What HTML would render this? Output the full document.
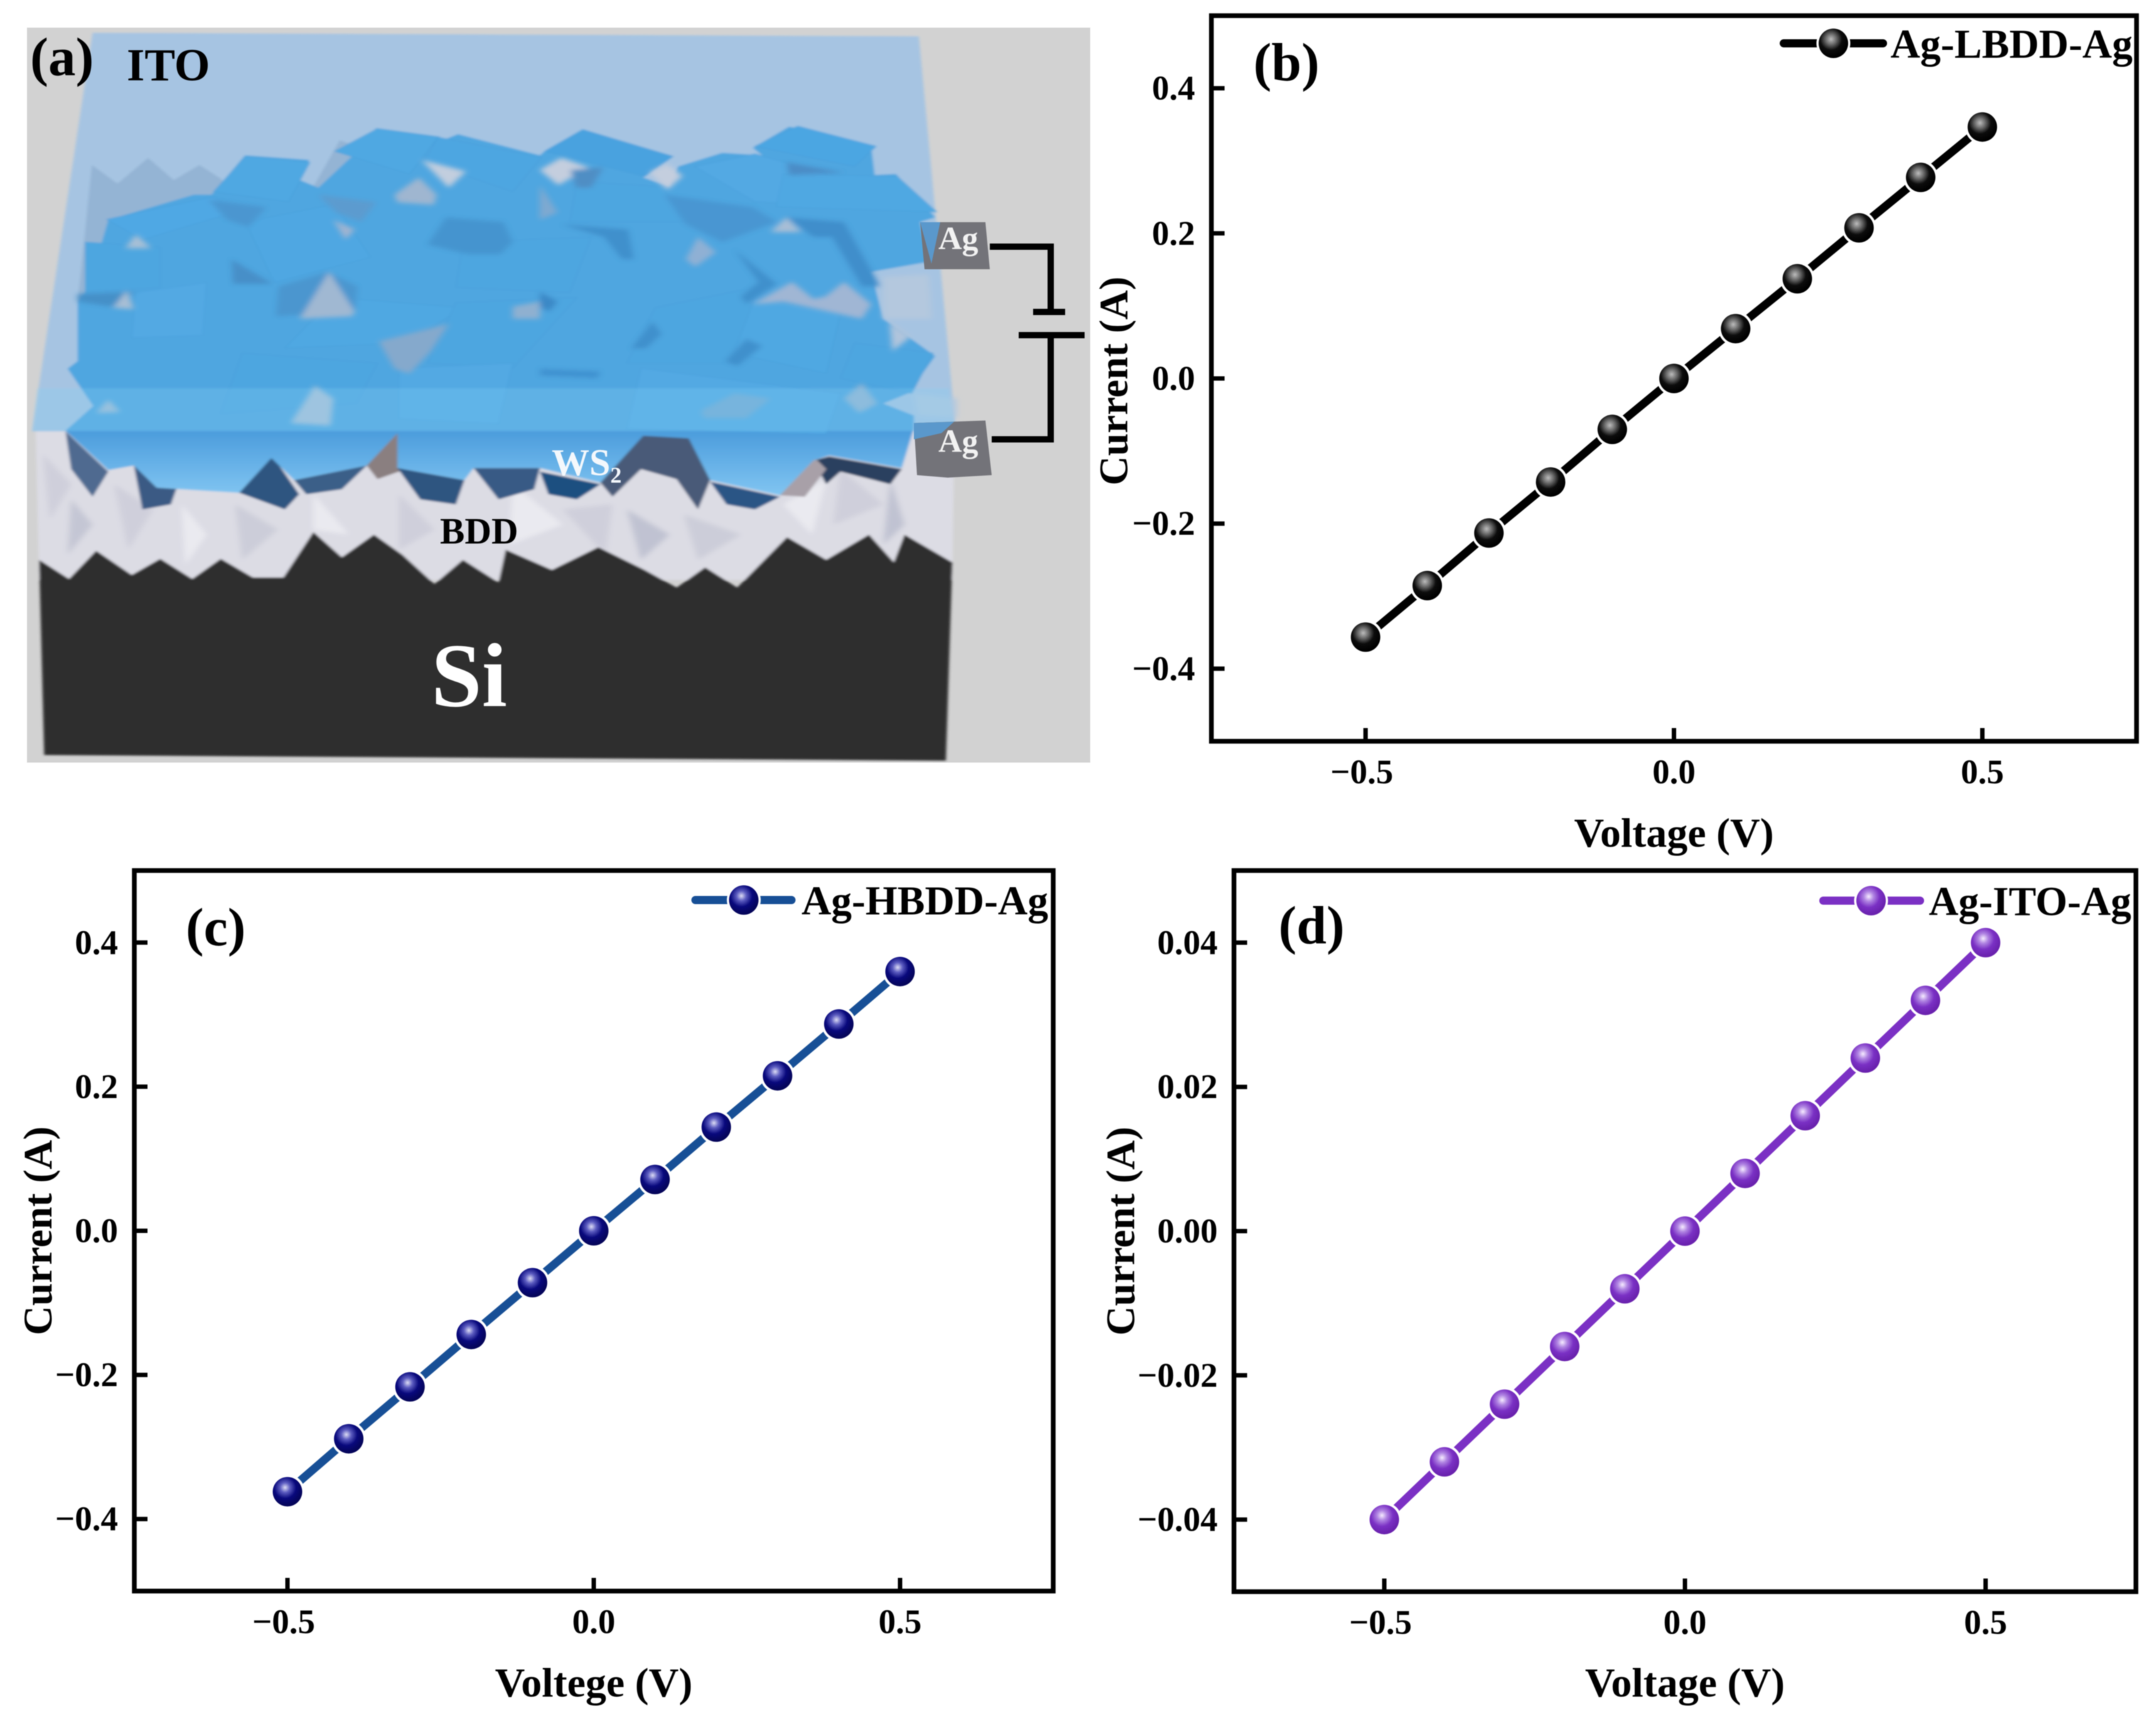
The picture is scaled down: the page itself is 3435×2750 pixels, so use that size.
<!DOCTYPE html>
<html lang="en">
<head>
<meta charset="utf-8">
<title>Ag contact I-V characteristics</title>
<style>
html,body{margin:0;padding:0;background:#fff;width:3435px;height:2750px;overflow:hidden}
svg{display:block;position:absolute;left:0;top:0;filter:blur(0.8px)}
text{font-family:"Liberation Serif",serif;font-weight:bold;fill:#000}
</style>
</head>
<body>
<svg id="figure" xmlns="http://www.w3.org/2000/svg" width="3435" height="2750" viewBox="0 0 3435 2750">
  <defs>
    <radialGradient id="ball-black" cx="0.42" cy="0.36" r="0.6">
      <stop offset="0" stop-color="#bcbcbc"/><stop offset="0.3" stop-color="#6a6a6a"/><stop offset="0.62" stop-color="#0c0c0c"/><stop offset="1" stop-color="#000"/>
    </radialGradient>
    <radialGradient id="ball-navy" cx="0.42" cy="0.36" r="0.6">
      <stop offset="0" stop-color="#dcdcf4"/><stop offset="0.28" stop-color="#5c5cc0"/><stop offset="0.62" stop-color="#08087c"/><stop offset="1" stop-color="#05055a"/>
    </radialGradient>
    <radialGradient id="ball-purple" cx="0.42" cy="0.36" r="0.6">
      <stop offset="0" stop-color="#f6ecff"/><stop offset="0.28" stop-color="#b084e2"/><stop offset="0.62" stop-color="#7a30c4"/><stop offset="1" stop-color="#6a22ae"/>
    </radialGradient>
    <linearGradient id="mass-fill" gradientUnits="userSpaceOnUse" x1="0" y1="250" x2="0" y2="985">
      <stop offset="0" stop-color="#4fa6e0"/><stop offset="0.82" stop-color="#4fa6e0"/><stop offset="0.822" stop-color="#4b9cdc"/><stop offset="1" stop-color="#82c6f2"/>
    </linearGradient>
    <filter id="soft" x="-2%" y="-2%" width="104%" height="104%"><feGaussianBlur stdDeviation="2"/></filter>
    <filter id="softer" filterUnits="userSpaceOnUse" x="0" y="0" width="1568" height="1568"><feGaussianBlur stdDeviation="4"/></filter>
  </defs>

  <g id="panel-a">
    <rect x="43" y="44" width="1694" height="1171" fill="#d2d2d2"/>
    <g id="art" filter="url(#soft)" transform="scale(1.1348,0.8036)">
      <polygon points="50,850 1340,850 1337,1150 55,1150" fill="#dcdce4"/>
      <g id="bdd-facets" filter="url(#softer)"></g>
      <polygon fill="#2e2e2e" points="55,1110 97,1148 135,1092 185,1140 225,1108 270,1148 310,1108 355,1145 398,1145 440,1055 480,1105 525,1060 565,1100 610,1158 650,1110 700,1155 710,1090 775,1130 840,1085 905,1130 950,1165 990,1125 1035,1165 1105,1065 1160,1110 1220,1060 1255,1115 1270,1060 1337,1115 1328,1508 62,1497"/>
      <g id="shadows"></g>
      <polygon points="130,65 1290,72 1342,855 45,855" fill="#a6c4e2"/>
      <polygon points="129,327 165,364 208,313 244,357 280,327 310,354 340,420 109,600" fill="#94b4d4"/>
      <polygon points="440,370 477,278 520,300 500,380" fill="#94b4d4"/>
      <polygon fill="url(#mass-fill)" points="109,716 109,598 126,568 144,475 152,436 272,386 297,386 344,308 434,317 421,357 447,372 507,293 528,254 618,271 613,283 643,266 758,308 766,298 818,256 941,308 903,352 940,370 952,330 1014,303 1070,308 1057,293 1108,251 1223,288 1228,347 1258,345 1313,431 1292,440 1304,519 1223,539 1240,632 1313,706 1275,780 1240,800 1283,824 1283,850 1266,928 1164,903 1142,913 1095,982 997,952 967,869 903,864 843,957 758,928 665,928 652,952 558,928 558,859 515,923 413,952 381,908 336,977 220,967 188,923 152,932 92,854 131,805 95,731"/>
      <g id="flakes"></g>
      <g id="gaps" filter="url(#softer)"></g>
      <polygon points="52,770 1332,770 1342,855 45,855" fill="#86d0f6" fill-opacity="0.28"/>
    </g>
    <polygon points="1466,354 1570,354 1577,429 1473,429" fill="#737379"/>
    <polygon points="1466,354 1498,354 1484,420" fill="#5a98cc"/>
    <polygon points="1456,674 1570,670 1580,757 1510,761 1461,757" fill="#737379"/>
    <polygon points="1456,674 1520,672 1500,690 1456,700" fill="#5a98cc"/>
    <path d="M1577 393H1674V497M1646 497H1697M1623 534H1728M1674 534V700H1580" fill="none" stroke="#000" stroke-width="10"/>
    <text x="48" y="120" font-size="87">(a)</text>
    <text x="202" y="128" font-size="73">ITO</text>
    <text x="1495" y="397" font-size="52" style="fill:#f2f2f2">Ag</text>
    <text x="1495" y="720" font-size="52" style="fill:#f2f2f2">Ag</text>
    <text x="879" y="757" font-size="60" style="fill:#f4f8fc">WS<tspan font-size="36" dy="12">2</tspan></text>
    <text x="701" y="866" font-size="59">BDD</text>
    <text x="687" y="1125" font-size="145" style="fill:#fff">Si</text>
  </g>
</svg>

<script>
/* ---------- chart data ---------- */
const voltages = [-0.5, -0.4, -0.3, -0.2, -0.1, 0, 0.1, 0.2, 0.3, 0.4, 0.5];
const currentLBDD = [-0.3565, -0.2855, -0.2130, -0.1427, -0.0702, 0, 0.0687, 0.1374, 0.2076, 0.2771, 0.3466];
const currentHBDD = [-0.3621, -0.2886, -0.2166, -0.1439, -0.0720, 0, 0.0712, 0.1439, 0.2151, 0.2870, 0.3598];
const currentITO = [-0.0400, -0.0320, -0.0240, -0.0160, -0.0080, 0, 0.0080, 0.0160, 0.0240, 0.0320, 0.0400];
const xTickValues = [-0.5, 0, 0.5];
const xTickLabels = ['\u22120.5', '0.0', '0.5'];
const yTickValuesBDD = [-0.4, -0.2, 0, 0.2, 0.4];
const yTickLabelsBDD = ['\u22120.4', '\u22120.2', '0.0', '0.2', '0.4'];
const yTickValuesITO = [-0.04, -0.02, 0, 0.02, 0.04];
const yTickLabelsITO = ['\u22120.04', '\u22120.02', '0.00', '0.02', '0.04'];

/* ---------- panel layout ---------- */
const panels = [
  {id:'b', left:1930, right:3404, top:25, bottom:1181, xMin:-0.75, xMax:0.75, yMin:-0.5, yMax:0.5,
   values:currentLBDD, yTicks:yTickValuesBDD, yLabels:yTickLabelsBDD, line:'#000000', ball:'ball-black',
   legend:'Ag-LBDD-Ag', legX0:2842, legX1:3000, legM:2921, legY:69, legTextX:3012,
   label:'(b)', labelX:1997, labelY:128, xTitle:'Voltage (V)', xTitleY:1349, yTitleX:1796, yTitleShift:4},
  {id:'c', left:214, right:1678, top:1387, bottom:2535, xMin:-0.75, xMax:0.75, yMin:-0.5, yMax:0.5,
   values:currentHBDD, yTicks:yTickValuesBDD, yLabels:yTickLabelsBDD, line:'#174f96', ball:'ball-navy',
   legend:'Ag-HBDD-Ag', legX0:1108, legX1:1261, legM:1185, legY:1434, legTextX:1277,
   label:'(c)', labelX:296, labelY:1506, xTitle:'Voltege (V)', xTitleY:2703, yTitleX:82, yTitleShift:0},
  {id:'d', left:1966, right:3403, top:1387, bottom:2536, xMin:-0.75, xMax:0.75, yMin:-0.05, yMax:0.05,
   values:currentITO, yTicks:yTickValuesITO, yLabels:yTickLabelsITO, line:'#7b30c4', ball:'ball-purple',
   legend:'Ag-ITO-Ag', legX0:2905, legX1:3059, legM:2981, legY:1435, legTextX:3073,
   label:'(d)', labelX:2037, labelY:1503, xTitle:'Voltage (V)', xTitleY:2703, yTitleX:1807, yTitleShift:0}
];

/* ---------- schematic artwork (illustration, not chart data) ---------- */
const flakeShapes = [
 ['345,310 435,322 405,400 300,380','#50a8e2'],['530,255 615,272 575,345 470,300','#50a8e2'],
 ['615,272 760,312 720,380 595,320','#4ea6e1'],['820,258 945,310 905,350 765,300','#4aa2df'],
 ['810,360 930,370 960,440 800,440','#4ea6e0'],['975,330 1060,305 1220,370 1200,410 1060,400','#52a9e3'],
 ['1120,250 1230,290 1200,330 1060,290','#4ca6e2'],['1100,345 1260,350 1315,420 1090,410','#50a8e2'],
 ['150,435 300,390 330,420 200,475','#50a8e4'],['345,440 470,405 520,510 385,560','#4fa7e2'],
 ['120,480 225,490 225,570 120,580','#4ea6e0'],['190,580 290,560 285,665 185,670','#52a9e3'],
 ['650,480 830,470 800,580 640,570','#4ea6e0'],['470,590 650,610 570,680 400,690','#50a8e2'],
 ['640,600 810,590 720,730 600,720','#4ea6e0'],['920,610 1060,570 1040,720 880,720','#4ea6e0'],
 ['1060,590 1180,620 1160,740 1030,700','#50a8e2'],['1200,680 1310,700 1280,780 1180,750','#4ea6e0'],
 ['340,700 530,720 500,800 310,820','#4ea6e0'],['560,730 720,720 700,840 560,830','#52a9e3'],
 ['900,730 1180,780 1160,860 880,850','#52a9e3']
];
const gapShapes = [
 ['592,317 654,340 630,372','#c2cede'],['554,386 588,352 613,386 609,406 558,401','#9fb6d0'],
 ['447,386 528,401 507,440 472,421','#5b9bcf'],['600,485 626,431 707,440 720,480 703,504 656,504','#4494cf'],
 ['293,396 374,411 349,450 319,436','#4b96d0'],
 ['191,465 212,492 176,492','#a8c0d6'],['325,514 383,563 327,563','#468fc8'],
 ['391,568 460,539 502,568 498,618 387,627','#4c96cf'],['421,632 462,539 498,618 494,627','#a0b8d2'],
 ['109,583 191,578 156,608 109,598','#4590c8'],['159,610 178,576 188,613','#a8bed4'],
 ['532,677 630,642 605,696 575,741 554,731','#85a9cc'],['408,839 442,765 468,790 464,844','#a8c0d8'],
 ['135,819 152,792 169,817','#a0bcd6'],['720,608 758,598 758,632 720,632','#8fb0d0'],
 ['468,436 498,455 485,475','#a0b4d0'],
 ['758,337 788,313 826,332 784,367','#c4cede'],['912,342 937,325 958,349 937,376','#c4cede'],
 ['801,337 847,332 830,372 809,372','#4f8ec4'],['758,367 783,421 758,436','#7ea9d0'],
 ['933,386 1057,411 1091,440 1014,480 963,445','#4a96d2'],['1104,322 1185,342 1108,347','#4b8cc6'],
 ['1082,460 1104,431 1125,460','#a8bed6'],['788,445 882,455 890,514 873,514 848,470','#3f90cc'],
 ['963,514 980,470 1005,500 976,529','#8fb0d4'],['1031,495 1091,563 1048,603 1040,588 1065,559','#3f90cc'],
 ['1104,431 1185,440 1236,568 1210,568 1168,470 1142,470','#3f8ecb'],
 ['1057,603 1112,559 1142,593 1159,588 1185,559 1223,603 1210,632 1100,598','#a0b6d4'],
 ['1240,549 1304,544 1308,632 1240,632','#b4c8de'],['1249,637 1279,667 1253,696','#b0c4dc'],
 ['886,691 916,637 929,662 907,691','#3f90cc'],['1018,716 1048,672 1070,686 1035,726','#3f90cc'],
 ['758,578 783,598 771,618 758,608','#3a88c6'],['758,731 843,736 839,750 758,745','#3f92d0'],
 ['984,814 1031,780 1082,790 1048,829 988,829','#72a9d4'],['1185,790 1210,760 1232,800 1206,819','#90b4d4'],
 ['1283,780 1343,790 1343,829 1288,824','#b0c8e0']
];
const shadowShapes = [
 ['92,855 152,935 130,985 100,930','#4f6a90'],['188,923 250,960 240,1000 200,1010','#3a5a84'],
 ['336,977 381,900 420,980 400,1010','#2f5580'],['515,923 558,855 570,930 530,950','#8a7f80'],
 ['413,952 515,923 480,970 430,980','#3a5f88'],['558,928 652,952 640,1000 590,990','#2f5580'],
 ['665,928 758,928 750,970 700,990','#385a85'],['843,957 903,860 967,865 997,952 980,1010 950,950 900,930 860,985','#4a5a78'],
 ['758,935 843,960 810,990 770,980','#1f4f80'],['997,955 1095,985 1060,1010 1020,1000','#2a5585'],
 ['1142,913 1164,905 1266,930 1250,960 1180,935 1160,960','#2a3f5f'],['1095,982 1142,905 1160,930 1130,985','#a8a0a8']
];
const facetShapes = [
 ['100,990 130,1040 95,1100','#c4c6d4'],['160,960 215,1010 180,1090','#cfcfdb'],['255,1000 290,1060 260,1120','#eaeaf0'],
 ['330,1000 390,1050 340,1110','#cccdd9'],['440,980 490,1060 440,1050','#eaeaf0'],['560,980 610,1050 560,1090','#cfcfdb'],
 ['720,960 790,1040 715,1080','#eaeaf0'],['790,1010 860,1000 850,1100','#cfcfdb'],['880,1010 940,1060 900,1110','#c0c2d2'],
 ['960,1020 1040,1060 980,1110','#cccdd9'],['1100,1000 1160,950 1140,1060','#eaeaf0'],['1180,930 1240,1000 1170,1040','#cfcfdb'],
 ['1250,950 1270,1040 1240,1080','#c0c2d2'],['60,900 100,960 70,1030','#cfcfdb']
];

/* ---------- helpers ---------- */
const SVGNS = 'http://www.w3.org/2000/svg';
const figure = document.getElementById('figure');
function make(tag, parent, props) {
  const node = document.createElementNS(SVGNS, tag);
  for (const key in props) node.setAttribute(key, props[key]);
  parent.appendChild(node);
  return node;
}
function xScale(p, v) { return p.left + (v - p.xMin) / (p.xMax - p.xMin) * (p.right - p.left); }
function yScale(p, v) { return p.bottom - (v - p.yMin) / (p.yMax - p.yMin) * (p.bottom - p.top); }

/* ---------- draw schematic pieces ---------- */
flakeShapes.forEach(function (s) {
  const el = make('polygon', document.getElementById('flakes'), {points: s[0], fill: s[1], stroke: '#489fdb', 'stroke-width': 1});
  
  
});
gapShapes.forEach(function (s) {
  const el = make('polygon', document.getElementById('gaps'), {points: s[0], fill: s[1]});
  
  
});
shadowShapes.forEach(function (s) {
  const el = make('polygon', document.getElementById('shadows'), {points: s[0], fill: s[1]});
  
  
});
facetShapes.forEach(function (s) {
  const el = make('polygon', document.getElementById('bdd-facets'), {points: s[0], fill: s[1]});
  
  
});

/* ---------- draw charts ---------- */
panels.forEach(function (p) {
  const g = make('g', figure, {});
  
  

  const frame = make('rect', g, {x: p.left, y: p.top, width: p.right - p.left, height: p.bottom - p.top, fill: 'none', stroke: '#000', 'stroke-width': 7.5});
  
  

  xTickValues.forEach(function (v, i) {
    const x = xScale(p, v);
    const tick = make('line', g, {x1: x, x2: x, y1: p.bottom, y2: p.bottom - 21, stroke: '#000', 'stroke-width': 7});
    
    
    const shift = xTickLabels[i].charAt(0) === '\u2212' ? -6 : 0;
    const lab = make('text', g, {x: x + shift, y: p.bottom + 67, 'font-size': 55, 'text-anchor': 'middle'});
    lab.textContent = xTickLabels[i];
    
    
  });

  p.yTicks.forEach(function (v, i) {
    const y = yScale(p, v);
    const tick = make('line', g, {x1: p.left, x2: p.left + 21, y1: y, y2: y, stroke: '#000', 'stroke-width': 7});
    
    
    const lab = make('text', g, {x: p.left - 26, y: y + 18, 'font-size': 55, 'text-anchor': 'end'});
    lab.textContent = p.yLabels[i];
    
    
  });

  const xTitle = make('text', g, {x: (p.left + p.right) / 2, y: p.xTitleY, 'font-size': 66, 'text-anchor': 'middle'});
  xTitle.textContent = p.xTitle;
  
  

  const yMid = (p.top + p.bottom) / 2 + p.yTitleShift;
  const yTitle = make('text', g, {x: p.yTitleX, y: yMid, 'font-size': 65, 'text-anchor': 'middle', transform: 'rotate(-90 ' + p.yTitleX + ' ' + yMid + ')'});
  yTitle.textContent = 'Current (A)';
  
  

  const panelLabel = make('text', g, {x: p.labelX, y: p.labelY, 'font-size': 86});
  panelLabel.textContent = p.label;
  
  

  const pts = voltages.map(function (v, i) { return xScale(p, v) + ',' + yScale(p, p.values[i]); }).join(' ');
  const series = make('polyline', g, {points: pts, fill: 'none', stroke: p.line, 'stroke-width': 13, 'stroke-linejoin': 'round'});
  
  

  voltages.forEach(function (v, i) {
    const cx = xScale(p, v);
    const cy = yScale(p, p.values[i]);
    const halo = make('circle', g, {cx: cx, cy: cy, r: 27.5, fill: '#fff'});
    
    
    const dot = make('circle', g, {cx: cx, cy: cy, r: 23.5, fill: 'url(#' + p.ball + ')'});
    
    
  });

  const legLine = make('line', g, {x1: p.legX0, x2: p.legX1, y1: p.legY, y2: p.legY, stroke: p.line, 'stroke-width': 13, 'stroke-linecap': 'round'});
  
  
  const legHalo = make('circle', g, {cx: p.legM, cy: p.legY, r: 27, fill: '#fff'});
  
  
  const legDot = make('circle', g, {cx: p.legM, cy: p.legY, r: 23.5, fill: 'url(#' + p.ball + ')'});
  
  
  const legText = make('text', g, {x: p.legTextX, y: p.legY + 23, 'font-size': 65.5});
  legText.textContent = p.legend;
  
  
});
</script>
</body>
</html>
